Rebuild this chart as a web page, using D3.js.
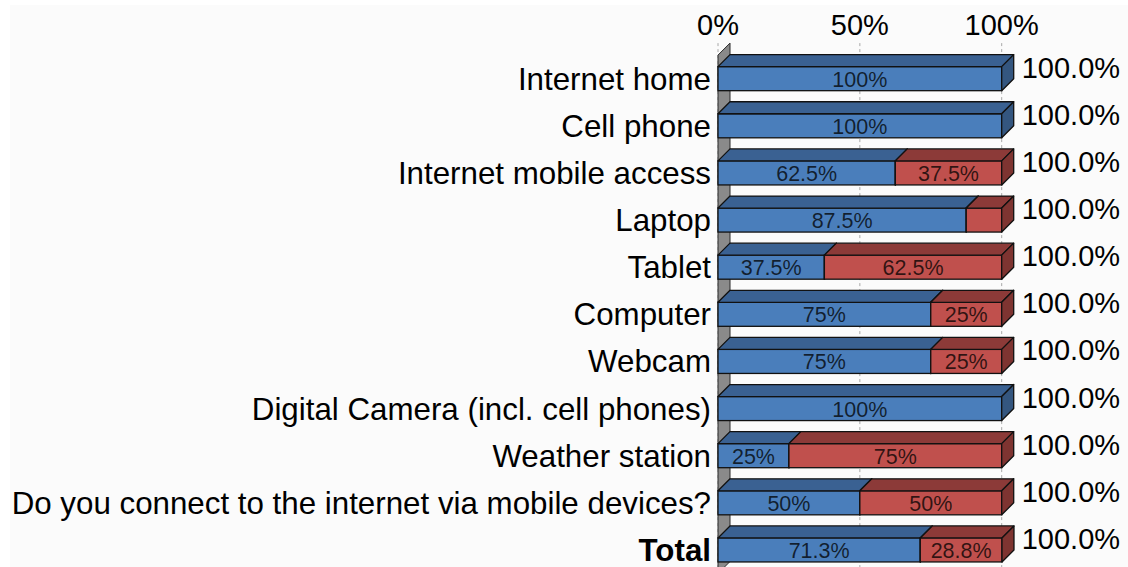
<!DOCTYPE html>
<html>
<head>
<meta charset="utf-8">
<script src="https://cdn.jsdelivr.net/npm/d3@7"></script>
<style>
  html, body { margin: 0; padding: 0; background: #ffffff; }
  svg { display: block; font-family: "Liberation Sans", Arial, sans-serif; }
</style>
</head>
<body>
<svg id="chart" width="1128" height="567"></svg>
<script>
// Survey: share of respondents per device (yes / no), in percent
const categories = [
  "Internet home",
  "Cell phone",
  "Internet mobile access",
  "Laptop",
  "Tablet",
  "Computer",
  "Webcam",
  "Digital Camera (incl. cell phones)",
  "Weather station",
  "Do you connect to the internet via mobile devices?",
  "Total"
];
const yesValues = [100, 100, 62.5, 87.5, 37.5, 75, 75, 100, 25, 50, 71.3];
const noValues  = [0, 0, 37.5, 12.5, 62.5, 25, 25, 0, 75, 50, 28.8];
const totalValues = [100, 100, 100, 100, 100, 100, 100, 100, 100, 100, 100];
const tickValues = [0, 50, 100];
const boldCategories = ["Total"];

const W = 1128, H = 567;
const depth = 12;          // 3D offset of the bars and the side wall
const minLabelValue = 15;  // segments narrower than this stay unlabeled

const svg = d3.select("#chart");

// panel background
svg.append("rect")
  .attr("x", 10).attr("y", 5)
  .attr("width", W - 10).attr("height", H - 5)
  .attr("fill", "#fbfbfb");

const x = d3.scaleLinear().domain([0, 100]).range([718, 1001.7]);
const y = d3.scaleBand()
  .domain(categories)
  .range([55.1, 573.5])
  .paddingInner(0.49)
  .paddingOuter(0.245);

const series = [
  { key: "yes", values: yesValues, front: "#4a7ebb", top: "#3a6192", side: "#34567f" },
  { key: "no",  values: noValues,  front: "#c0504d", top: "#8c3a38", side: "#7e3431" }
];

const x0 = x(0);
const wallTop = y.range()[0];
const wallBottom = y.range()[1];

// dashed vertical gridlines
svg.append("g").selectAll("line")
  .data(tickValues)
  .join("line")
  .attr("x1", d => x(d)).attr("x2", d => x(d))
  .attr("y1", wallTop - depth).attr("y2", H)
  .attr("stroke", "#a8a8a8")
  .attr("stroke-width", 1)
  .attr("stroke-dasharray", "3,3");

// side wall along the category axis
svg.append("path")
  .attr("d", `M${x0},${wallTop} L${x0 + depth},${wallTop - depth} L${x0 + depth},${wallBottom - depth} L${x0},${wallBottom} Z`)
  .attr("fill", "#8a8a8a")
  .attr("stroke", "#2a2a2a")
  .attr("stroke-width", 1);

// top tick labels
svg.append("g").selectAll("text")
  .data(tickValues)
  .join("text")
  .attr("x", d => x(d))
  .attr("y", 35)
  .attr("text-anchor", "middle")
  .attr("font-size", 29)
  .attr("fill", "#000")
  .text(d => d + "%");

// stacked segments
const rows = categories.map((c, i) => {
  let acc = 0;
  const segs = series.map(s => {
    const v = s.values[i];
    const seg = { cat: c, s, v, a: acc, b: acc + v };
    acc += v;
    return seg;
  });
  return { cat: c, segs };
});

const barG = svg.append("g");
rows.forEach(row => {
  const top = y(row.cat);
  const bh = y.bandwidth();
  const g = barG.append("g");
  row.segs.filter(d => d.v > 0).forEach(d => {
    const xa = x(d.a), xb = x(d.b);
    // front face
    g.append("rect")
      .attr("x", xa).attr("y", top)
      .attr("width", xb - xa).attr("height", bh)
      .attr("fill", d.s.front)
      .attr("stroke", "#111").attr("stroke-width", 1.3);
    // top face
    g.append("path")
      .attr("d", `M${xa},${top} L${xa + depth},${top - depth} L${xb + depth},${top - depth} L${xb},${top} Z`)
      .attr("fill", d.s.top)
      .attr("stroke", "#111").attr("stroke-width", 1.3)
      .attr("stroke-linejoin", "round");
    // right face
    g.append("path")
      .attr("d", `M${xb},${top} L${xb + depth},${top - depth} L${xb + depth},${top + bh - depth} L${xb},${top + bh} Z`)
      .attr("fill", d.s.side)
      .attr("stroke", "#111").attr("stroke-width", 1.3)
      .attr("stroke-linejoin", "round");
  });
  // value labels inside the segments
  row.segs.filter(d => d.v >= minLabelValue).forEach(d => {
    g.append("text")
      .attr("x", (x(d.a) + x(d.b)) / 2)
      .attr("y", top + bh / 2 + 8)
      .attr("text-anchor", "middle")
      .attr("font-size", 21.5)
      .attr("fill", "#000")
      .attr("fill-opacity", 0.75)
      .text(d.v + "%");
  });
});

// category labels
svg.append("g").selectAll("text")
  .data(categories)
  .join("text")
  .attr("x", 711)
  .attr("y", d => y(d) + y.bandwidth() / 2 + 11)
  .attr("text-anchor", "end")
  .attr("font-size", 31.3)
  .attr("font-weight", d => boldCategories.includes(d) ? "bold" : "normal")
  .attr("fill", "#000")
  .text(d => d);

// row totals at the bar ends
svg.append("g").selectAll("text")
  .data(categories)
  .join("text")
  .attr("x", x(100) + depth + 8)
  .attr("y", (d, i) => y(d) + y.bandwidth() / 2 - 1)
  .attr("font-size", 29)
  .attr("fill", "#000")
  .text((d, i) => totalValues[i].toFixed(1) + "%");
</script>
</body>
</html>
